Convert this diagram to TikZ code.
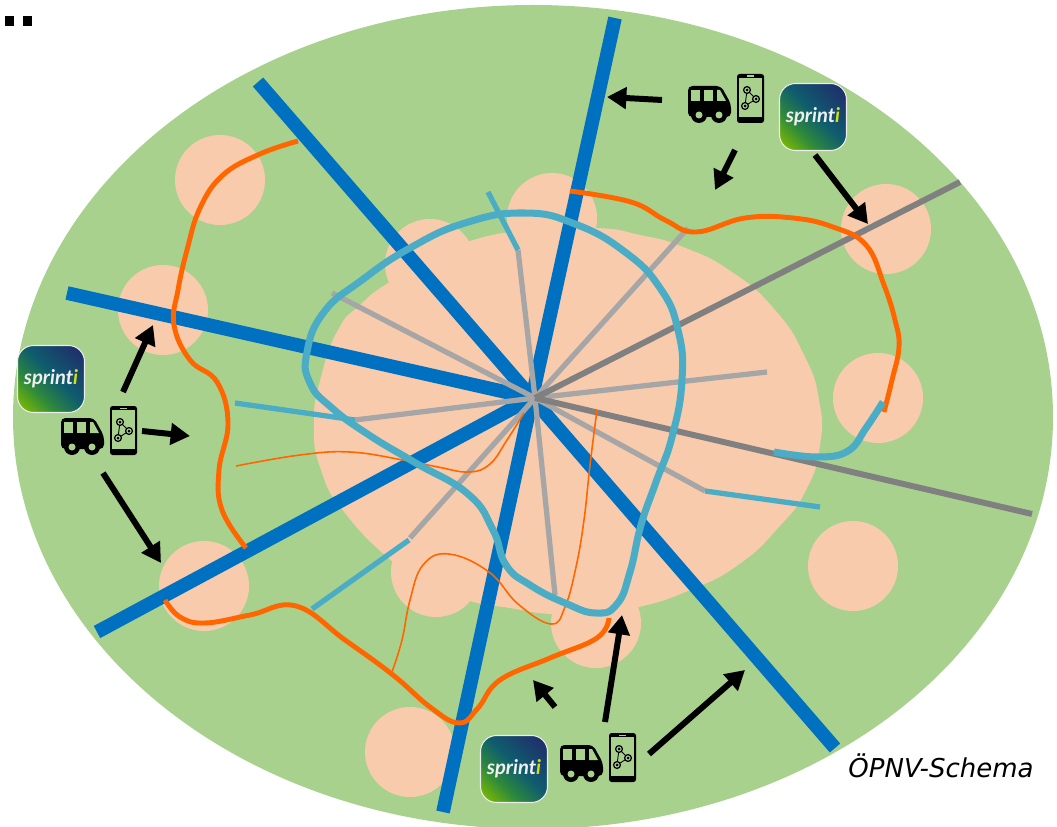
\documentclass[tikz,border=0pt]{standalone}
\usepackage{fontspec}
\setsansfont{DejaVu Sans}
\newfontfamily\appfont{Lato}
\usepackage{tikz}
\usetikzlibrary{arrows.meta}

\definecolor{landgreen}{HTML}{A9D18E}
\definecolor{citypeach}{HTML}{F8CBAD}
\definecolor{railblue}{HTML}{0070C0}
\definecolor{tramteal}{HTML}{4BACC6}
\definecolor{busorange}{HTML}{FF6600}
\definecolor{linegrey}{HTML}{A6A6A6}
\definecolor{darkgrey}{HTML}{808080}
\definecolor{appgreen}{HTML}{7DBB00}
\definecolor{appmid}{HTML}{2F8A3A}
\definecolor{appteal}{HTML}{0F5C6E}
\definecolor{appnavy}{HTML}{1F2F6B}

\pgfdeclareverticalshading{appshade}{100bp}{color(0bp)=(appgreen);
  color(18bp)=(appgreen); color(35bp)=(appmid); color(53bp)=(appteal); color(80bp)=(appnavy); color(100bp)=(appnavy)}

\tikzset{
  town/.style={fill=citypeach},
  rail/.style={railblue, line width=7.8pt},
  grey line/.style={linegrey, line width=3pt},
  dark line/.style={darkgrey, line width=3.4pt},
  tram/.style={tramteal, line width=3pt},
  ring/.style={tramteal, line width=4pt},
  bus thick/.style={busorange, line width=2.8pt},
  bus thin/.style={busorange, line width=0.9pt},
  feeder/.style={black, line width=3.4pt, -{Triangle[length=11pt,width=12pt]}},
  app/.style={draw=white!85!gray, line width=0.6pt, rounded corners=0.32cm, shading=appshade, shading angle=-45,
    minimum size=1.34cm, inner sep=0pt, text=white!88!gray, font=\appfont\itshape\bfseries\fontsize{11.5}{13}\selectfont},
  pics/mobility/.style={code={
    % bus
    \fill[black, rounded corners=2.5pt] (-49,43) -- (-49,12) -- (-16,12) -- (-6,30) -- (-6,43) -- cycle;
    \fill[landgreen] (-46,16) rectangle (-37,27);
    \fill[landgreen] (-33,16) rectangle (-24,27);
    \fill[landgreen] (-20,16) -- (-17,16) -- (-11,27) -- (-20,27) -- cycle;
    \fill[black] (-38,41) circle (8);
    \fill[black] (-18,41) circle (8);
    \fill[landgreen] (-38,41) circle (3.5);
    \fill[landgreen] (-18,41) circle (3.5);
    % phone
    \fill[black, rounded corners=1.5pt] (0,0) rectangle (27,49);
    \fill[landgreen] (2,4) rectangle (25,43);
    \fill[landgreen] (10,1.5) rectangle (17,2.8);
    \draw[black, line width=0.5pt] (10,16) -- (19,25) -- (8,32) -- cycle;
    \foreach \px/\py in {10/16,19/25,8/32}{
      \fill[landgreen] (\px,\py) circle (3.4);
      \draw[black, line width=0.7pt] (\px,\py) circle (3.4);
      \fill[black] (\px,\py) circle (1.5);
    }
  }}
}

\begin{document}
\begin{tikzpicture}[x=0.02cm,y=-0.02cm]
\useasboundingbox (0,0) rectangle (1057,827);

% land and towns
\fill[landgreen] (533,417) ellipse [x radius=520, y radius=412];
\foreach \cx/\cy in {220/180,163/310,204/586,552/218,430/264,886/229,878/398,853/566,410/752,596/623,436/572}{
  \fill[town] (\cx,\cy) circle (45);
}
\fill[town] plot[smooth cycle, tension=0.9] coordinates {(470,241) (530,230) (596,228) (640,235) (683,247) (732,272) (775,310) (804,355) (819,400) (820,445)
  (806,490) (778,528) (738,565) (690,590) (639,607) (595,613) (551,614) (510,608) (470,601) (430,585) (393,562) (345,513) (321,470) (314,423) (321,377) (338,330) (360,305) (388,283) (430,260)};

% rail lines
\foreach \ex/\ey in {258/82,615/18,67/293,97/632,443/812,835/748}{
  \draw[rail] (532,398) -- (\ex,\ey);
}

% grey lines
\foreach \ex/\ey in {518/250,688/228,332/293,767/372,355/420,410/538,555/595,705/491}{
  \draw[grey line] (535,398) -- (\ex,\ey);
}
\draw[dark line] (535,398) -- (960,182);
\draw[dark line] (535,398) -- (1032,514);

% thin bus lines
\draw[bus thin] plot[smooth, tension=0.7] coordinates {(236,466) (300,455) (350,452) (403,460) (438,467) (469,472) (490,464) (507,440) (524,413)};
\draw[bus thin] plot[smooth, tension=0.7] coordinates {(392,672) (402,640) (410,600) (423,565) (449,554) (489,572) (518,604) (551,624) (565,607) (576,567) (584,520) (590,465) (597,410)};

% tram ends and ring
\draw[tram] (488,192) -- (518,250);
\draw[tram] (235,403) -- (355,420);
\draw[tram] (312,609) -- (409,540);
\draw[tram] (705,491) -- (820,507);
\draw[ring] plot[smooth cycle, tension=0.8] coordinates {(524,213) (575,224) (625,252) (660,288) (678,330) (682,380) (672,437) (656,482) (641,525)
  (630,572) (617,604) (596,613) (565,603) (530,585) (506,565) (493,530) (468,494) (414,462) (369,435) (332,408) (310,383) (307,352) (324,312) (362,280) (410,248) (465,223)};

% thick bus lines
\draw[bus thick] plot[smooth, tension=0.7] coordinates {(298,141) (260,154) (223,175) (200,208) (187,250) (178,290) (174,325) (190,360) (217,382) (228,423) (219,470) (222,510) (246,548)};
\draw[bus thick] plot[smooth, tension=0.7] coordinates {(165,600) (180,617) (205,623) (250,615) (296,606) (345,640) (393,675) (430,707) (459,723) (478,708) (500,680) (550,658) (597,638) (609,618)};
\draw[bus thick] plot[smooth, tension=0.7] coordinates {(570,191) (631,202) (665,220) (696,232) (745,218) (793,218) (833,227) (866,245) (884,285) (895,320) (899,347) (892,380) (884,412)};
\draw[ring] plot[smooth, tension=0.7] coordinates {(774,452) (817,457) (848,451) (866,428) (883,402)};

% icons
\pic at (737,74) {mobility};
\pic at (110,406) {mobility};
\pic at (609,733) {mobility};
\node[app] (apptop) at (813,117) {sprint\textcolor{yellow!80!green}{i}};
\node[app] (appleft) at (51,379) {sprint\textcolor{yellow!80!green}{i}};
\node[app] (appbottom) at (514,769) {sprint\textcolor{yellow!80!green}{i}};

% feeder arrows
\draw[feeder] (662,100) -- (607,97);
\draw[feeder] (735,150) -- (715,190);
\draw[feeder] (815,155) -- (868,224);
\draw[feeder] (123,392) -- (153,325);
\draw[feeder] (142,431) -- (190,436);
\draw[feeder] (103,473) -- (161,563);
\draw[feeder] (555,707) -- (533,680);
\draw[feeder] (605,722) -- (622,615);
\draw[feeder] (649,754) -- (745,670);

\node[font=\sffamily\itshape\fontsize{14.8}{17}\selectfont] (title) at (941,766) {ÖPNV-Schema};
\fill[black] (5,16) rectangle (14,26);
\fill[black] (23,16) rectangle (32,26);
\end{tikzpicture}
\end{document}
